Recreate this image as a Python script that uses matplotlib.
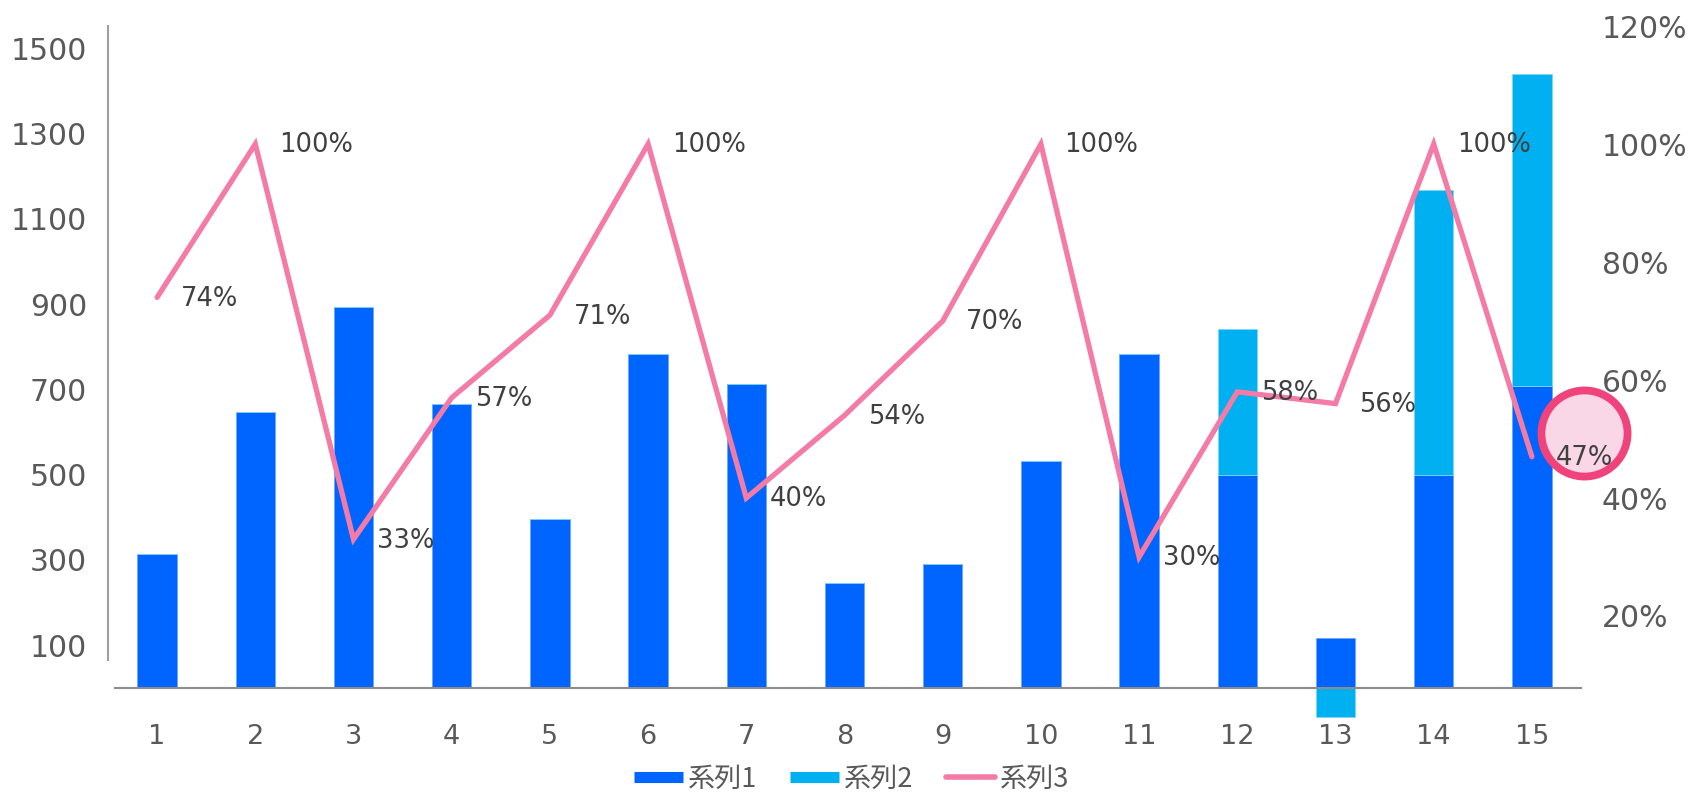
import matplotlib
matplotlib.use('Agg')
import matplotlib.pyplot as plt
import numpy as np
from matplotlib.lines import Line2D

plt.rcParams['font.family'] = ['DejaVu Sans', 'Noto Sans CJK JP']

# ---- data ----
categories = [str(i) for i in range(1, 16)]
series1 = [314, 647, 893, 665, 395, 784, 713, 246, 291, 531, 782, 500, 117, 500, 708]
series2 = [0, 0, 0, 0, 0, 0, 0, 0, 0, 0, 0, 342, -68, 668, 731]
series3 = [0.74, 1.00, 0.33, 0.57, 0.71, 1.00, 0.40, 0.54, 0.70, 1.00, 0.30, 0.58, 0.56, 1.00, 0.47]
left_ticks = [100, 300, 500, 700, 900, 1100, 1300, 1500]
right_ticks = [0.2, 0.4, 0.6, 0.8, 1.0, 1.2]
legend_labels = ['系列1', '系列2', '系列3']

c1 = '#0064FF'
c2 = '#00B0F0'
c3 = '#F47BA5'
tick_col = '#595959'
lab_col = '#404040'

fig = plt.figure(figsize=(16.9, 7.96), dpi=100)
ax = fig.add_axes([0.0639, 0.0779, 0.8716, 0.8894])
ax2 = ax.twinx()

x = np.arange(1, len(categories) + 1)
s1 = np.array(series1, dtype=float)
s2 = np.array(series2, dtype=float)
bottom2 = np.where(s2 >= 0, np.where(s1 >= 0, s1, 0), np.where(s1 < 0, s1, 0))

ax.bar(x, s1, width=0.4, color=c1, edgecolor='#6FA5FF', linewidth=0.6, zorder=2)
ax.bar(x, s2, width=0.4, bottom=bottom2, color=c2, edgecolor='#7FD6F7', linewidth=0.6, zorder=2)

ax.set_xlim(0.5, 15.5)
ax.set_ylim(-108, 1552)
ax.set_xticks(x)
ax.set_xticklabels(categories)
ax.set_yticks(left_ticks)
ax.tick_params(axis='y', length=0, pad=15, labelsize=21.5, labelcolor=tick_col)
ax.tick_params(axis='x', length=0, pad=26, labelsize=19.5, labelcolor=tick_col)

for s in ['top', 'right', 'left']:
    ax.spines[s].set_visible(False)
ax.spines['bottom'].set_position(('data', 0))
ax.spines['bottom'].set_color('#8C8C8C')
ax.spines['bottom'].set_linewidth(1.5)
ax.spines['bottom'].set_bounds(0.57, 15.5)
ax.spines['bottom'].set_zorder(3)

# left axis line (does not reach the baseline)
ax.add_line(Line2D([0, 0], [0.104, 1.0], transform=ax.transAxes, color='#A0A0A0',
                   linewidth=1.5, clip_on=False))

# ---- secondary axis ----
ax2.set_ylim(0, 1.2)
ax2.set_yticks(right_ticks)
ax2.set_yticklabels([f'{int(round(v * 100))}%' for v in right_ticks])
ax2.tick_params(axis='y', length=0, pad=15, labelsize=21.5, labelcolor=tick_col)
for s in ax2.spines.values():
    s.set_visible(False)

ax2.plot(x, series3, color=c3, linewidth=3.8, solid_capstyle='round',
         solid_joinstyle='miter', zorder=3)

# highlight circle near the last point
ax2.plot([15.53], [0.51], 'o', ms=62, mfc='#FAD7E6', mec='#F0437C', mew=5.6,
         clip_on=False, zorder=4)

for xi, v in zip(x, series3):
    ax2.annotate(f'{int(round(v * 100))}%', (xi, v), xytext=(17, -1), textcoords='offset points',
                 ha='left', va='center', fontsize=18.5, color=lab_col, zorder=5,
                 annotation_clip=False)

# ---- legend ----
handles = [
    Line2D([], [], color=c1, linewidth=8, solid_capstyle='butt'),
    Line2D([], [], color=c2, linewidth=8, solid_capstyle='butt'),
    Line2D([], [], color=c3, linewidth=4, solid_capstyle='round'),
]
leg = fig.legend(handles, legend_labels, loc='center', bbox_to_anchor=(0.504, 0.021),
                 ncol=3, frameon=False, handlelength=1.8, handletextpad=0.2,
                 columnspacing=1.2, borderpad=0.0,
                 prop={'family': ['Noto Sans CJK JP'], 'size': 19.5})
for t in leg.get_texts():
    t.set_color(tick_col)

fig.savefig('out.png', dpi=100)
